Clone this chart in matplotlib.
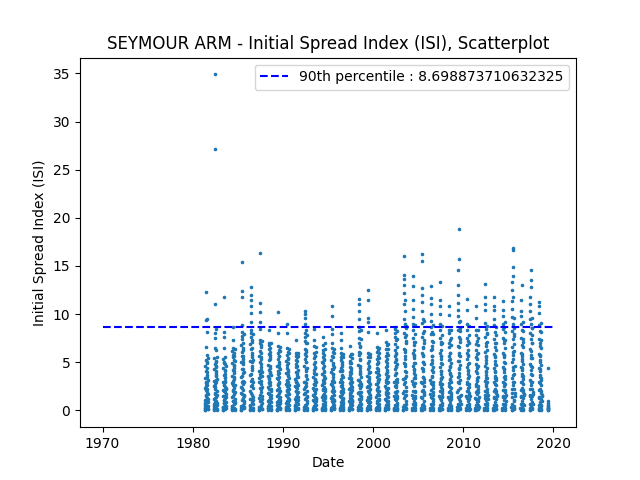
import numpy as np
import pandas as pd
import matplotlib.pyplot as plt

# fire season readings per year (ISI), in season order
season_years = list(range(1981, 2020))

isi_values = [
    "0.2 0.5 1.1 2.3 0.8 3.4 4.6 1.5 0.3 5.2 6.6 2.8 9.4 12.3 4.1 3.0 0.6 1.9 5.8 8.1 9.5 3.7 2.2 0.4 1.3 4.9 2.6 0.9 0.1 1.7 3.2 0.5",
    "0.3 1.2 2.5 0.7 4.3 3.1 5.4 1.8 6.5 8.0 27.1 34.9 11.0 7.5 4.8 2.2 0.4 3.6 8.5 6.3 5.1 2.9 1.4 0.2 3.9 4.6 1.0 0.6 2.0 0.1 3.3 1.6",
    "0.4 1.5 0.2 3.0 2.1 4.4 5.3 1.1 6.5 7.6 3.7 11.8 4.9 2.6 8.1 5.0 0.8 1.9 3.4 4.1 0.3 2.4 1.3 0.6 3.8 2.9 0.1 1.7 4.6 0.9 2.2 0.5",
    "0.2 1.4 2.8 0.5 3.6 4.9 6.2 2.0 5.5 8.7 6.5 4.2 3.1 1.0 5.8 7.3 4.7 2.5 0.3 3.9 6.0 1.7 0.7 2.3 4.4 3.3 1.2 0.1 2.6 5.1 0.8 1.9",
    "0.3 1.8 3.5 2.4 5.0 6.8 4.3 8.1 7.4 15.4 12.4 6.1 11.8 8.9 7.7 5.6 3.1 0.6 4.8 6.5 2.7 1.3 5.3 3.9 0.2 2.1 4.0 1.0 0.4 3.0 1.6 0.8",
    "0.5 2.0 3.7 1.2 5.1 6.9 8.0 12.0 12.8 9.2 11.5 7.6 10.1 6.4 10.8 8.3 5.5 4.2 2.6 7.1 3.3 0.9 4.6 6.0 1.6 0.3 3.0 5.2 2.3 0.7 1.1 0.2",
    "0.2 1.3 2.9 4.1 3.4 5.6 7.0 9.2 16.4 11.2 6.2 10.2 8.5 7.3 5.0 3.8 2.2 0.6 4.5 6.6 2.7 1.0 5.3 3.1 0.4 1.9 4.0 2.4 0.8 1.5 0.1 3.6",
    "0.3 1.0 2.4 3.6 1.8 4.7 5.9 7.0 8.3 6.4 5.2 3.3 0.7 2.9 4.2 6.8 5.5 3.9 1.4 0.2 2.6 4.4 3.0 1.1 6.1 2.0 0.5 3.7 1.6 0.9 2.2 0.1",
    "0.1 0.9 2.1 3.4 1.5 4.6 6.0 6.7 10.2 8.0 5.3 3.8 2.6 0.4 4.1 5.7 3.0 1.2 2.3 6.3 4.8 1.8 0.6 3.5 2.8 1.0 0.3 2.0 4.3 1.4 0.8 0.2",
    "0.2 1.6 0.8 2.7 3.9 5.1 6.5 9.0 4.4 8.0 5.8 3.2 2.1 0.5 4.7 6.1 3.6 1.3 2.4 5.4 0.9 3.0 4.0 1.9 0.3 2.6 1.1 0.6 3.4 1.7 0.1 2.2",
    "0.3 1.2 2.5 0.6 3.3 4.5 5.6 7.3 4.0 6.0 3.1 2.0 0.4 4.8 5.2 3.7 1.5 2.8 0.9 3.9 1.8 5.5 2.3 0.2 1.0 3.5 4.2 0.7 2.6 1.4 0.1 1.9",
    "0.4 1.7 3.0 4.6 2.2 5.9 7.2 8.0 10.3 9.6 7.6 10.0 9.0 6.4 5.3 8.4 7.0 4.1 2.8 0.6 3.6 6.1 5.0 1.3 2.5 4.4 0.8 3.3 1.0 0.2 2.0 1.5",
    "0.2 1.1 2.3 3.5 1.6 4.8 6.0 8.5 7.3 5.4 6.7 3.9 2.7 0.5 4.2 5.7 3.1 1.4 2.0 0.8 4.5 3.3 1.8 0.3 2.6 1.0 3.8 0.6 2.2 0.1 1.3 2.9",
    "0.3 1.4 2.6 3.8 5.0 6.3 7.6 6.8 5.5 4.4 3.2 2.1 0.7 4.9 6.0 5.3 3.6 2.4 1.1 0.4 3.0 4.1 2.8 1.7 0.2 2.2 3.4 0.9 1.5 0.6 2.0 0.1",
    "0.2 1.3 2.7 4.0 5.2 6.5 8.5 10.8 9.8 7.9 7.0 5.6 4.3 3.1 1.9 0.5 3.5 6.1 4.7 2.2 0.8 3.8 2.4 1.2 0.3 2.9 4.5 1.6 0.6 2.0 1.0 0.1",
    "0.3 1.5 2.9 4.1 5.2 6.0 7.3 8.0 6.5 5.5 4.4 3.3 2.0 0.6 4.8 5.8 3.7 2.4 1.1 0.2 3.0 4.2 2.6 1.7 0.4 2.2 3.5 0.9 1.3 0.7 1.9 0.1",
    "0.2 1.0 2.2 3.4 4.5 5.6 6.7 5.1 4.0 2.8 1.6 0.5 3.7 4.9 5.9 3.1 2.0 0.8 1.3 2.6 4.2 3.3 1.9 0.3 2.4 1.1 0.6 3.0 1.5 0.1 0.9 2.1",
    "0.4 1.8 3.2 4.7 6.1 7.5 8.7 11.1 11.6 10.3 9.5 8.2 7.0 5.8 4.4 3.0 1.6 0.5 5.2 6.6 3.8 2.3 0.9 4.1 2.7 1.2 0.2 3.5 1.9 0.7 2.5 1.4",
    "0.2 1.1 2.4 3.6 4.9 6.0 8.1 9.6 12.5 11.5 9.2 5.5 4.3 3.1 1.8 0.6 4.6 5.8 3.9 2.5 1.2 0.3 3.3 2.0 0.9 4.0 2.7 1.4 0.5 2.2 1.6 0.1",
    "0.3 1.4 2.7 4.0 5.3 6.6 8.0 6.1 4.8 3.5 2.2 0.8 4.4 5.7 6.3 3.1 1.9 0.5 2.9 4.1 5.0 2.4 1.1 0.2 3.7 1.6 0.7 2.0 3.3 1.2 0.4 0.1",
    "0.2 1.2 2.5 3.8 5.1 6.4 8.4 7.1 5.7 4.5 3.2 1.9 0.6 4.2 6.0 6.8 4.9 3.5 2.1 0.9 2.8 4.0 1.5 0.3 3.0 2.3 1.0 0.5 1.8 3.6 0.7 0.1",
    "0.3 1.5 2.9 4.3 5.6 6.9 8.0 8.7 8.5 7.6 6.3 5.0 3.7 2.4 1.1 0.5 4.6 6.0 7.3 5.3 3.9 2.6 1.8 0.8 3.3 4.8 2.0 0.2 1.3 3.0 0.6 0.1",
    "0.4 1.8 3.3 4.9 6.4 8.0 9.5 11.0 13.0 16.0 14.1 13.7 12.2 11.5 10.3 9.0 7.6 6.1 4.6 3.0 1.5 0.5 5.3 7.2 8.6 4.0 2.4 1.0 0.2 3.6 2.0 0.7",
    "0.3 1.6 3.1 4.6 6.0 7.5 9.0 9.7 10.5 11.5 12.9 14.0 8.3 6.8 5.4 3.9 2.5 1.0 0.4 4.3 5.8 7.1 3.4 2.0 0.8 2.8 4.9 1.3 0.2 3.7 1.9 0.6",
    "0.2 1.4 2.9 4.4 6.0 7.6 9.1 10.3 11.3 12.0 16.2 15.5 12.7 9.5 8.0 6.5 5.0 3.5 2.1 0.7 4.1 5.7 7.0 3.0 1.6 0.3 2.5 4.8 1.0 0.5 3.3 1.9",
    "0.3 1.7 3.2 4.8 6.3 7.9 9.3 10.0 11.0 12.9 11.7 8.7 7.2 5.7 4.2 2.7 1.3 0.5 3.6 5.2 6.7 8.1 4.5 2.3 1.0 0.2 3.0 1.9 0.7 2.6 4.0 1.2",
    "0.2 1.5 3.0 4.5 6.0 7.5 9.0 10.0 10.8 13.3 11.5 8.4 6.9 5.3 3.8 2.4 1.1 0.4 4.1 5.6 7.1 3.3 2.0 0.8 2.7 4.8 1.4 0.1 3.5 1.8 0.6 2.2",
    "0.3 1.4 2.8 4.2 5.6 7.0 8.4 9.9 10.8 8.0 6.6 5.2 3.8 2.4 1.0 0.4 4.5 6.0 7.3 3.3 2.0 0.7 2.9 4.9 1.6 0.2 3.6 1.2 0.5 2.3 1.8 0.1",
    "0.4 1.9 3.5 5.1 6.7 8.3 9.8 10.4 11.2 12.0 13.0 14.6 15.7 18.8 9.2 7.6 6.0 4.4 2.8 1.2 0.5 3.9 5.6 7.1 8.6 2.3 1.0 0.2 3.2 4.7 1.5 0.7",
    "0.3 1.5 3.0 4.5 6.0 7.5 9.0 10.4 11.6 8.3 6.8 5.3 3.8 2.3 1.0 0.4 4.2 5.8 7.2 3.4 2.0 0.7 2.7 4.9 1.6 0.2 3.6 1.2 0.5 2.4 1.8 0.1",
    "0.2 1.3 2.7 4.1 5.5 6.9 8.3 9.6 10.8 7.8 6.3 4.8 3.4 2.0 0.9 0.3 4.4 5.9 7.2 3.1 1.7 0.6 2.5 4.6 1.2 0.1 3.5 1.9 0.5 2.2 1.0 0.4",
    "0.3 1.6 3.1 4.6 6.1 7.6 9.1 10.4 11.0 11.8 13.1 8.5 7.0 5.5 4.0 2.5 1.1 0.4 3.7 5.2 6.7 8.0 2.9 1.4 0.2 2.2 4.4 0.8 3.4 1.9 0.6 1.2",
    "0.2 1.4 2.9 4.4 5.9 7.4 8.9 9.5 10.4 11.8 10.8 8.1 6.6 5.1 3.6 2.2 0.9 0.3 4.0 5.6 7.0 3.2 1.8 0.6 2.6 4.7 1.2 0.1 3.4 2.0 0.5 1.6",
    "0.3 1.5 3.0 4.5 6.0 7.5 9.0 9.8 10.4 11.4 8.5 7.0 5.5 4.0 2.5 1.1 0.4 4.3 5.8 7.3 8.7 3.3 1.9 0.7 2.7 4.9 1.4 0.2 3.6 2.1 0.6 1.0",
    "0.4 1.8 3.4 5.0 6.6 8.2 9.7 10.5 11.4 12.5 13.3 14.0 14.9 16.7 16.9 11.8 9.0 7.4 5.8 4.2 2.6 1.1 0.5 3.8 6.2 7.9 2.2 1.0 0.2 3.0 4.6 1.5",
    "0.3 1.5 3.0 4.5 6.0 7.5 9.0 9.8 10.3 11.5 13.0 8.3 6.8 5.3 3.8 2.3 1.0 0.4 4.2 5.7 7.1 3.3 1.9 0.7 2.7 4.8 1.3 0.1 3.6 2.1 0.6 1.7",
    "0.3 1.6 3.2 4.8 6.4 8.0 9.5 10.3 11.0 11.8 12.8 13.5 14.6 9.0 7.4 5.8 4.2 2.6 1.2 0.5 3.7 5.4 7.0 8.6 2.2 0.9 0.2 3.0 4.5 1.5 0.7 1.9",
    "0.2 1.4 2.9 4.4 5.9 7.4 8.9 10.1 10.8 11.3 8.2 6.7 5.2 3.7 2.2 0.9 0.3 4.1 5.6 7.0 3.2 1.8 0.6 2.6 4.7 1.2 0.1 3.4 2.0 0.5 1.6 1.0",
    "0.1 0.6 1.0 0.3 4.4 0.2 0.8",
]

# more readings from the dense lower band of each season
isi_values_body = [
    "0.0 0.0 0.3 0.7 1.0 1.6 2.1 2.5 3.0 3.5 4.0 4.4 5.0 5.4 0.1 1.2",
    "0.0 0.1 0.5 0.9 1.3 1.7 2.4 2.7 3.2 3.7 4.1 4.5 5.0 5.5 0.0 0.8",
    "0.0 0.0 0.4 0.8 1.1 1.5 2.0 2.6 3.1 3.5 4.2 4.8 5.5 0.2 1.4 2.3",
    "0.0 0.1 0.5 1.0 1.5 2.1 2.6 3.0 3.5 4.1 4.6 5.2 5.7 6.4 0.0 0.9",
    "0.0 0.0 0.5 1.1 1.7 2.3 3.0 3.6 4.3 5.0 5.7 6.3 7.0 7.9 0.2 1.5",
    "0.0 0.1 0.6 1.2 1.8 2.5 3.1 3.8 4.4 5.0 5.8 6.5 7.3 7.9 0.0 1.4",
    "0.0 0.0 0.4 1.0 1.6 2.3 2.9 3.5 4.2 4.8 5.5 6.0 6.8 7.2 0.1 1.2",
    "0.0 0.2 0.5 1.1 1.7 2.2 2.8 3.4 4.0 4.6 5.3 5.8 6.5 7.0 0.0 1.3",
    "0.0 0.0 0.6 1.0 1.6 2.2 2.7 3.3 3.9 4.5 5.0 5.6 6.2 6.6 0.1 1.1",
    "0.0 0.1 0.4 1.0 1.5 2.0 2.5 3.1 3.7 4.2 4.9 5.3 6.0 6.4 0.0 1.2",
    "0.0 0.0 0.5 0.9 1.4 2.0 2.4 3.0 3.5 4.0 4.6 5.1 5.6 6.0 0.2 1.1",
    "0.0 0.1 0.6 1.2 1.8 2.4 3.0 3.7 4.3 5.0 5.6 6.3 7.0 7.8 0.0 1.4",
    "0.0 0.0 0.5 1.0 1.5 2.1 2.7 3.2 3.8 4.4 5.0 5.6 6.1 6.6 0.1 1.2",
    "0.0 0.1 0.5 1.1 1.6 2.2 2.8 3.3 4.0 4.6 5.2 5.8 6.4 7.0 0.0 1.3",
    "0.0 0.0 0.4 1.0 1.5 2.0 2.6 3.2 3.8 4.3 4.9 5.5 6.0 6.4 0.2 1.1",
    "0.0 0.1 0.5 0.9 1.4 1.9 2.5 3.0 3.6 4.1 4.6 5.0 5.5 5.9 0.0 1.2",
    "0.0 0.0 0.4 0.8 1.3 1.8 2.3 2.9 3.4 3.9 4.4 4.9 5.4 5.9 0.1 1.0",
    "0.0 0.1 0.6 1.2 1.9 2.6 3.2 3.9 4.6 5.3 6.0 6.7 7.4 8.3 0.0 1.5",
    "0.0 0.0 0.5 0.9 1.4 2.0 2.5 3.0 3.5 4.0 4.5 5.1 5.5 5.9 0.1 1.3",
    "0.0 0.1 0.4 1.0 1.6 2.1 2.7 3.2 3.8 4.3 4.9 5.4 6.0 6.5 0.0 1.1",
    "0.0 0.0 0.5 1.1 1.7 2.3 2.9 3.4 4.0 4.6 5.3 5.8 6.4 6.9 0.2 1.4",
    "0.0 0.1 0.6 1.2 1.9 2.5 3.2 3.9 4.5 5.2 5.9 6.6 7.4 8.2 0.0 1.5",
    "0.0 0.0 0.6 1.3 2.0 2.7 3.4 4.1 4.8 5.6 6.3 7.0 7.8 8.8 0.1 1.6",
    "0.0 0.1 0.7 1.3 2.0 2.7 3.4 4.2 4.9 5.6 6.3 7.1 7.9 8.9 0.0 1.5",
    "0.0 0.0 0.6 1.3 2.0 2.8 3.5 4.3 5.0 5.8 6.6 7.3 8.2 9.3 0.1 1.7",
    "0.0 0.1 0.7 1.4 2.1 2.8 3.5 4.2 4.9 5.6 6.4 7.1 7.9 8.9 0.0 1.6",
    "0.0 0.0 0.6 1.3 2.0 2.7 3.4 4.1 4.9 5.6 6.3 7.0 7.8 8.8 0.1 1.5",
    "0.0 0.1 0.6 1.2 1.9 2.5 3.2 3.9 4.6 5.3 6.0 6.8 7.5 8.3 0.0 1.4",
    "0.0 0.0 0.7 1.4 2.1 2.9 3.6 4.3 5.1 5.8 6.6 7.4 8.2 9.3 0.1 1.6",
    "0.0 0.1 0.6 1.3 2.0 2.7 3.4 4.1 4.8 5.6 6.3 7.0 7.8 8.8 0.0 1.5",
    "0.0 0.0 0.6 1.2 1.9 2.5 3.2 3.9 4.6 5.3 6.0 6.8 7.5 8.3 0.1 1.4",
    "0.0 0.1 0.7 1.3 2.0 2.7 3.4 4.1 4.9 5.6 6.3 7.1 7.9 8.8 0.0 1.6",
    "0.0 0.0 0.6 1.3 2.0 2.7 3.4 4.1 4.8 5.5 6.3 7.0 7.8 8.7 0.1 1.5",
    "0.0 0.1 0.7 1.4 2.1 2.8 3.5 4.3 5.0 5.8 6.5 7.3 8.1 9.2 0.0 1.6",
    "0.0 0.0 0.7 1.4 2.2 3.0 3.7 4.5 5.3 6.1 6.9 7.7 8.6 9.6 0.1 1.8",
    "0.0 0.1 0.7 1.4 2.1 2.9 3.6 4.4 5.1 5.9 6.6 7.4 8.2 9.2 0.0 1.6",
    "0.0 0.0 0.7 1.5 2.2 3.0 3.8 4.6 5.4 6.2 7.0 7.8 8.6 9.6 0.1 1.7",
    "0.0 0.1 0.6 1.3 2.1 2.8 3.5 4.3 5.0 5.8 6.5 7.3 8.1 9.1 0.0 1.5",
    "0.0 0.0 0.5 0.1 0.4",
]

# season window (month-day); the last year stops early
season_start = "05-05"
season_end = "09-10"
last_year_end = "06-05"

p90 = 8.698873710632325

#build a dated frame
rows = []
for yr, txt, txt2 in zip(season_years, isi_values, isi_values_body):
    end = last_year_end if yr == season_years[-1] else season_end
    for k, t in enumerate([txt, txt2]):
        vals = [float(v) for v in t.split()]
        start = pd.Timestamp(f"{yr}-{season_start}") + pd.Timedelta(days=2 * k)
        days = pd.date_range(start, f"{yr}-{end}", periods=len(vals))
        rows.append(pd.DataFrame({"date": days, "isi": vals}))
df = pd.concat(rows, ignore_index=True)

fig = plt.figure(figsize=(6.4, 4.8), dpi=100)
ax = fig.add_subplot(1, 1, 1)

ax.scatter(df["date"], df["isi"], s=2.5)
ax.plot([pd.Timestamp("1970-01-01"), pd.Timestamp("2019-12-31")], [p90, p90],
        "b--", label="90th percentile : " + str(p90))

ax.set_title("SEYMOUR ARM - Initial Spread Index (ISI), Scatterplot")
ax.set_xlabel("Date")
ax.set_ylabel("Initial Spread Index (ISI)")
ax.legend(loc="upper right")

fig.savefig("out.png")
